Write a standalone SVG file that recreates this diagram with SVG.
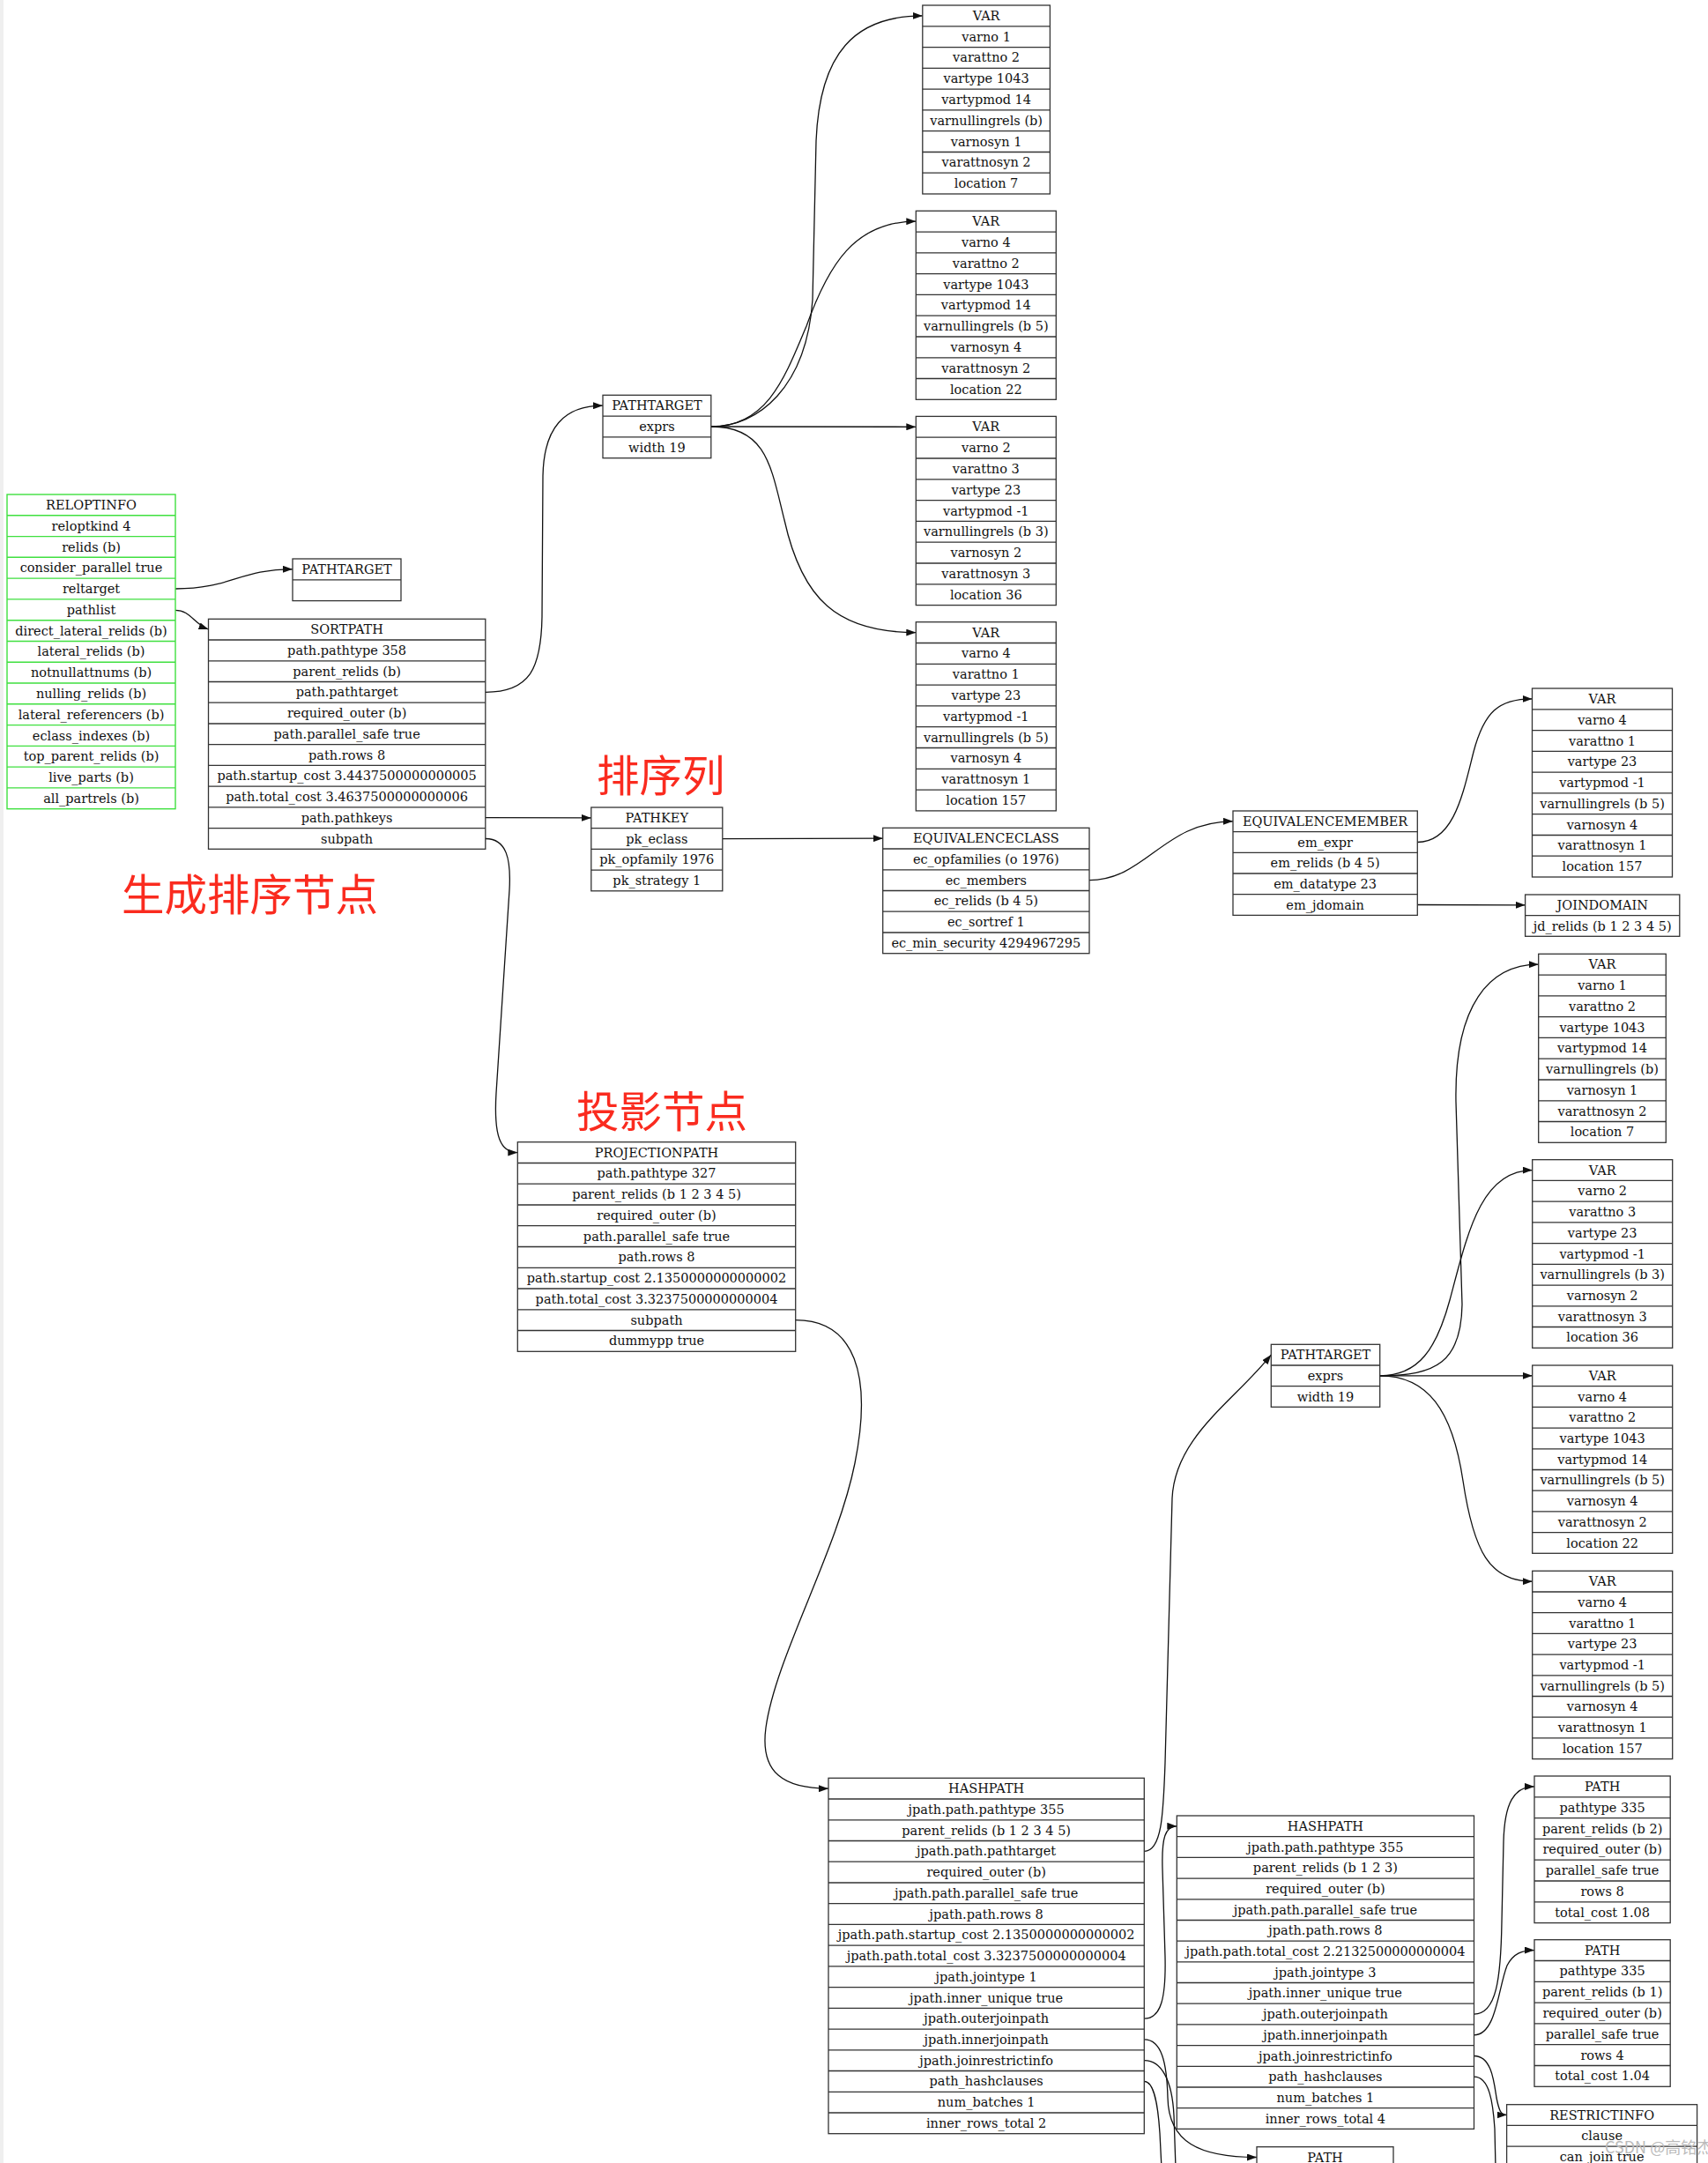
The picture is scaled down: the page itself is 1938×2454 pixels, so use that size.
<svg xmlns="http://www.w3.org/2000/svg" width="1938" height="2454" viewBox="0 0 1938 2454">
<style>
.box{fill:none;stroke:#333;stroke-width:1.3}
.gbox{fill:none;stroke:#3fe03f;stroke-width:1.4}
.sep{fill:none;stroke:#333;stroke-width:1.3}
.gsep{fill:none;stroke:#3fe03f;stroke-width:1.4}
.t{font-family:"DejaVu Serif",serif;font-size:14.5px;fill:#111;text-anchor:middle}
.e{fill:none;stroke:#111;stroke-width:1.3}
.red{font-family:"Noto Sans CJK SC",sans-serif;font-size:48.5px;fill:#fa2b1f}
.wm{font-family:"Noto Sans CJK SC",sans-serif;font-size:18px;fill:#bbb}
</style>
<defs>
<marker id="ah" markerUnits="userSpaceOnUse" markerWidth="11" markerHeight="8" refX="11" refY="4" orient="auto">
<path d="M0,0 L11,4 L0,8 z" fill="#111"/>
</marker>
</defs>
<rect x="0" y="0" width="1938" height="2454" fill="#fff"/>
<rect x="0" y="0" width="4" height="2454" fill="#efefef"/>

<g id="labels">
<text class="red" x="138" y="1033">生成排序节点</text>
<text class="red" x="677" y="897.5">排序列</text>
<text class="red" x="654" y="1279">投影节点</text>
</g>

<g id="connectors" class="e">
<path class="e" marker-end="url(#ah)" d="M199,668 C262,668 272,645.8 332,645.8"/>
<path class="e" marker-end="url(#ah)" d="M199,692.3 C216,692.3 220,708 236.5,714"/>
<path class="e" marker-end="url(#ah)" d="M551,785.3 C600,785.3 614,760 615,700 L616,540 C617,485 640,460.2 684,460.2"/>
<path class="e" marker-end="url(#ah)" d="M551,927.7 L670.8,927.9"/>
<path class="e" marker-end="url(#ah)" d="M551,951.5 C575,951.5 580,975 578,1010 L563,1240 C560,1290 568,1307.6 587.3,1307.6"/>
<path class="e" marker-end="url(#ah)" d="M807,484 C860,484 915,440 922,340 L926,160 C930,60 970,17.9 1046.8,17.9"/>
<path class="e" marker-end="url(#ah)" d="M807,484 C870,484 890,430 915,370 C940,300 970,251.2 1039.3,251.2"/>
<path class="e" marker-end="url(#ah)" d="M807,484 L1039.3,484.3"/>
<path class="e" marker-end="url(#ah)" d="M807,484 C870,484 875,530 890,590 C910,680 950,717.6 1039.3,717.6"/>
<path class="e" marker-end="url(#ah)" d="M820,951.6 L1001.7,951.2"/>
<path class="e" marker-end="url(#ah)" d="M1236,998.6 C1300,998.6 1320,931.8 1399,931.8"/>
<path class="e" marker-end="url(#ah)" d="M1608.3,955.5 C1650,955.5 1660,900 1672,853 C1684,808 1700,792.9 1738.5,792.9"/>
<path class="e" marker-end="url(#ah)" d="M1608.3,1026.5 L1730.6,1026.8"/>
<path class="e" marker-end="url(#ah)" d="M902.7,1497.7 C970,1497.7 990,1560 970,1660 C950,1760 880,1880 869,1960 C862,2012 890,2029.2 940,2029.2"/>
<path class="e" marker-end="url(#ah)" d="M1298.3,2100.4 C1318,2100.4 1320,2060 1322,2000 L1330,1700 C1333,1630 1400,1590 1442.3,1537.1"/>
<path class="e" marker-end="url(#ah)" d="M1298.3,2290.2 C1318,2290.2 1323,2265 1322,2220 L1319,2120 C1318,2085 1322,2071.8 1335.3,2071.8"/>
<path class="e" marker-end="url(#ah)" d="M1298.3,2313.9 C1318,2313.9 1324,2340 1325,2380 C1326,2430 1360,2447.5 1426,2447.5"/>
<path class="e" d="M1298.3,2337.7 C1318,2337.7 1330,2360 1332,2400 L1334,2460"/>
<path class="e" d="M1298.3,2361.4 C1310,2361.4 1314,2390 1316,2420 L1318,2460"/>
<path class="e" marker-end="url(#ah)" d="M1565.7,1560.8 C1630,1560.8 1658,1545 1659,1480 L1652,1250 C1650,1140 1690,1094.2 1745.7,1094.2"/>
<path class="e" marker-end="url(#ah)" d="M1565.7,1560.8 C1610,1560.8 1630,1530 1645,1475 C1665,1400 1680,1327.6 1738.7,1327.6"/>
<path class="e" marker-end="url(#ah)" d="M1565.7,1560.8 L1738.7,1560.85"/>
<path class="e" marker-end="url(#ah)" d="M1565.7,1560.8 C1620,1560.8 1648,1600 1660,1680 C1672,1760 1690,1794.2 1738.7,1794.2"/>
<path class="e" marker-end="url(#ah)" d="M1672.5,2285.1 C1698,2285.1 1703,2245 1704,2180 L1706,2090 C1707,2045 1718,2026.9 1741,2026.9"/>
<path class="e" marker-end="url(#ah)" d="M1672.5,2308.8 C1698,2308.8 1700,2255 1710,2230 C1717,2216 1727,2212.6 1741,2212.6"/>
<path class="e" marker-end="url(#ah)" d="M1672.5,2332.5 C1692,2332.5 1695,2360 1698,2380 C1701,2395 1703,2399.5 1709.6,2399.5"/>
<path class="e" d="M1672.5,2356.2 C1690,2356.2 1694,2385 1696,2415 L1697,2460"/>
</g>

<g id="reloptinfo">
<rect class="gbox" x="8" y="561" width="191" height="356.7"/>
<path class="gsep" d="M8,584.8H199M8,608.6H199M8,632.3H199M8,656.1H199M8,679.9H199M8,703.7H199M8,727.5H199M8,751.2H199M8,775H199M8,798.8H199M8,822.6H199M8,846.4H199M8,870.1H199M8,893.9H199"/>
<text class="t" x="103.5" y="577.9">RELOPTINFO</text>
<text class="t" x="103.5" y="601.7">reloptkind 4</text>
<text class="t" x="103.5" y="625.5">relids (b)</text>
<text class="t" x="103.5" y="649.2">consider_parallel true</text>
<text class="t" x="103.5" y="673">reltarget</text>
<text class="t" x="103.5" y="696.8">pathlist</text>
<text class="t" x="103.5" y="720.6">direct_lateral_relids (b)</text>
<text class="t" x="103.5" y="744.4">lateral_relids (b)</text>
<text class="t" x="103.5" y="768.1">notnullattnums (b)</text>
<text class="t" x="103.5" y="791.9">nulling_relids (b)</text>
<text class="t" x="103.5" y="815.7">lateral_referencers (b)</text>
<text class="t" x="103.5" y="839.5">eclass_indexes (b)</text>
<text class="t" x="103.5" y="863.3">top_parent_relids (b)</text>
<text class="t" x="103.5" y="887">live_parts (b)</text>
<text class="t" x="103.5" y="910.8">all_partrels (b)</text>
</g>

<g id="pathtarget_empty">
<rect class="box" x="332" y="634" width="123" height="47.6"/>
<path class="sep" d="M332,657.8H455"/>
<text class="t" x="393.5" y="650.9">PATHTARGET</text>
</g>

<g id="sortpath">
<rect class="box" x="236.5" y="702.3" width="314.3" height="261"/>
<path class="sep" d="M236.5,726H550.8M236.5,749.8H550.8M236.5,773.5H550.8M236.5,797.2H550.8M236.5,821H550.8M236.5,844.7H550.8M236.5,868.4H550.8M236.5,892.1H550.8M236.5,915.9H550.8M236.5,939.6H550.8"/>
<text class="t" x="393.6" y="719.2">SORTPATH</text>
<text class="t" x="393.6" y="742.9">path.pathtype 358</text>
<text class="t" x="393.6" y="766.6">parent_relids (b)</text>
<text class="t" x="393.6" y="790.4">path.pathtarget</text>
<text class="t" x="393.6" y="814.1">required_outer (b)</text>
<text class="t" x="393.6" y="837.8">path.parallel_safe true</text>
<text class="t" x="393.6" y="861.5">path.rows 8</text>
<text class="t" x="393.6" y="885.3">path.startup_cost 3.4437500000000005</text>
<text class="t" x="393.6" y="909">path.total_cost 3.4637500000000006</text>
<text class="t" x="393.6" y="932.7">path.pathkeys</text>
<text class="t" x="393.6" y="956.5">subpath</text>
</g>

<g id="pathtarget_top">
<rect class="box" x="684" y="448.3" width="122.8" height="71.4"/>
<path class="sep" d="M684,472.1H806.8M684,495.9H806.8"/>
<text class="t" x="745.4" y="465.2">PATHTARGET</text>
<text class="t" x="745.4" y="489">exprs</text>
<text class="t" x="745.4" y="512.8">width 19</text>
</g>

<g id="var1">
<rect class="box" x="1046.8" y="6" width="144.6" height="214"/>
<path class="sep" d="M1046.8,29.8H1191.4M1046.8,53.6H1191.4M1046.8,77.3H1191.4M1046.8,101.1H1191.4M1046.8,124.9H1191.4M1046.8,148.7H1191.4M1046.8,172.5H1191.4M1046.8,196.2H1191.4"/>
<text class="t" x="1119.1" y="22.9">VAR</text>
<text class="t" x="1119.1" y="46.7">varno 1</text>
<text class="t" x="1119.1" y="70.4">varattno 2</text>
<text class="t" x="1119.1" y="94.2">vartype 1043</text>
<text class="t" x="1119.1" y="118">vartypmod 14</text>
<text class="t" x="1119.1" y="141.8">varnullingrels (b)</text>
<text class="t" x="1119.1" y="165.6">varnosyn 1</text>
<text class="t" x="1119.1" y="189.4">varattnosyn 2</text>
<text class="t" x="1119.1" y="213.1">location 7</text>
</g>

<g id="var2">
<rect class="box" x="1039.3" y="239.3" width="159" height="214"/>
<path class="sep" d="M1039.3,263.1H1198.3M1039.3,286.9H1198.3M1039.3,310.6H1198.3M1039.3,334.4H1198.3M1039.3,358.2H1198.3M1039.3,382H1198.3M1039.3,405.8H1198.3M1039.3,429.5H1198.3"/>
<text class="t" x="1118.8" y="256.2">VAR</text>
<text class="t" x="1118.8" y="280">varno 4</text>
<text class="t" x="1118.8" y="303.8">varattno 2</text>
<text class="t" x="1118.8" y="327.6">vartype 1043</text>
<text class="t" x="1118.8" y="351.3">vartypmod 14</text>
<text class="t" x="1118.8" y="375.1">varnullingrels (b 5)</text>
<text class="t" x="1118.8" y="398.9">varnosyn 4</text>
<text class="t" x="1118.8" y="422.7">varattnosyn 2</text>
<text class="t" x="1118.8" y="446.5">location 22</text>
</g>

<g id="var3">
<rect class="box" x="1039.3" y="472.4" width="159" height="214.2"/>
<path class="sep" d="M1039.3,496.2H1198.3M1039.3,520H1198.3M1039.3,543.8H1198.3M1039.3,567.6H1198.3M1039.3,591.4H1198.3M1039.3,615.2H1198.3M1039.3,639H1198.3M1039.3,662.8H1198.3"/>
<text class="t" x="1118.8" y="489.3">VAR</text>
<text class="t" x="1118.8" y="513.1">varno 2</text>
<text class="t" x="1118.8" y="536.9">varattno 3</text>
<text class="t" x="1118.8" y="560.7">vartype 23</text>
<text class="t" x="1118.8" y="584.5">vartypmod -1</text>
<text class="t" x="1118.8" y="608.3">varnullingrels (b 3)</text>
<text class="t" x="1118.8" y="632.1">varnosyn 2</text>
<text class="t" x="1118.8" y="655.9">varattnosyn 3</text>
<text class="t" x="1118.8" y="679.7">location 36</text>
</g>

<g id="var4">
<rect class="box" x="1039.3" y="705.7" width="159" height="214.2"/>
<path class="sep" d="M1039.3,729.5H1198.3M1039.3,753.3H1198.3M1039.3,777.1H1198.3M1039.3,800.9H1198.3M1039.3,824.7H1198.3M1039.3,848.5H1198.3M1039.3,872.3H1198.3M1039.3,896.1H1198.3"/>
<text class="t" x="1118.8" y="722.6">VAR</text>
<text class="t" x="1118.8" y="746.4">varno 4</text>
<text class="t" x="1118.8" y="770.2">varattno 1</text>
<text class="t" x="1118.8" y="794">vartype 23</text>
<text class="t" x="1118.8" y="817.8">vartypmod -1</text>
<text class="t" x="1118.8" y="841.6">varnullingrels (b 5)</text>
<text class="t" x="1118.8" y="865.4">varnosyn 4</text>
<text class="t" x="1118.8" y="889.2">varattnosyn 1</text>
<text class="t" x="1118.8" y="913">location 157</text>
</g>

<g id="pathkey">
<rect class="box" x="670.8" y="916" width="149" height="94.8"/>
<path class="sep" d="M670.8,939.7H819.8M670.8,963.4H819.8M670.8,987.1H819.8"/>
<text class="t" x="745.3" y="932.9">PATHKEY</text>
<text class="t" x="745.3" y="956.6">pk_eclass</text>
<text class="t" x="745.3" y="980.3">pk_opfamily 1976</text>
<text class="t" x="745.3" y="1004">pk_strategy 1</text>
</g>

<g id="equivalenceclass">
<rect class="box" x="1001.7" y="939.3" width="234.3" height="142.4"/>
<path class="sep" d="M1001.7,963H1236M1001.7,986.8H1236M1001.7,1010.5H1236M1001.7,1034.2H1236M1001.7,1058H1236"/>
<text class="t" x="1118.85" y="956.2">EQUIVALENCECLASS</text>
<text class="t" x="1118.85" y="979.9">ec_opfamilies (o 1976)</text>
<text class="t" x="1118.85" y="1003.6">ec_members</text>
<text class="t" x="1118.85" y="1027.4">ec_relids (b 4 5)</text>
<text class="t" x="1118.85" y="1051.1">ec_sortref 1</text>
<text class="t" x="1118.85" y="1074.8">ec_min_security 4294967295</text>
</g>

<g id="equivalencemember">
<rect class="box" x="1399" y="920" width="209.3" height="118.4"/>
<path class="sep" d="M1399,943.7H1608.3M1399,967.3H1608.3M1399,991H1608.3M1399,1014.7H1608.3"/>
<text class="t" x="1503.6" y="936.8">EQUIVALENCEMEMBER</text>
<text class="t" x="1503.6" y="960.5">em_expr</text>
<text class="t" x="1503.6" y="984.2">em_relids (b 4 5)</text>
<text class="t" x="1503.6" y="1007.8">em_datatype 23</text>
<text class="t" x="1503.6" y="1031.5">em_jdomain</text>
</g>

<g id="var_em">
<rect class="box" x="1738.5" y="781" width="159" height="214"/>
<path class="sep" d="M1738.5,804.8H1897.5M1738.5,828.6H1897.5M1738.5,852.3H1897.5M1738.5,876.1H1897.5M1738.5,899.9H1897.5M1738.5,923.7H1897.5M1738.5,947.5H1897.5M1738.5,971.2H1897.5"/>
<text class="t" x="1818" y="797.9">VAR</text>
<text class="t" x="1818" y="821.7">varno 4</text>
<text class="t" x="1818" y="845.5">varattno 1</text>
<text class="t" x="1818" y="869.2">vartype 23</text>
<text class="t" x="1818" y="893">vartypmod -1</text>
<text class="t" x="1818" y="916.8">varnullingrels (b 5)</text>
<text class="t" x="1818" y="940.6">varnosyn 4</text>
<text class="t" x="1818" y="964.4">varattnosyn 1</text>
<text class="t" x="1818" y="988.1">location 157</text>
</g>

<g id="joindomain">
<rect class="box" x="1730.6" y="1015" width="175.2" height="47.3"/>
<path class="sep" d="M1730.6,1038.65H1905.8"/>
<text class="t" x="1818.2" y="1031.8">JOINDOMAIN</text>
<text class="t" x="1818.2" y="1055.5">jd_relids (b 1 2 3 4 5)</text>
</g>

<g id="projectionpath">
<rect class="box" x="587.3" y="1295.7" width="315.4" height="237.6"/>
<path class="sep" d="M587.3,1319.5H902.7M587.3,1343.2H902.7M587.3,1367H902.7M587.3,1390.7H902.7M587.3,1414.5H902.7M587.3,1438.3H902.7M587.3,1462H902.7M587.3,1485.8H902.7M587.3,1509.5H902.7"/>
<text class="t" x="745" y="1312.6">PROJECTIONPATH</text>
<text class="t" x="745" y="1336.4">path.pathtype 327</text>
<text class="t" x="745" y="1360.1">parent_relids (b 1 2 3 4 5)</text>
<text class="t" x="745" y="1383.9">required_outer (b)</text>
<text class="t" x="745" y="1407.6">path.parallel_safe true</text>
<text class="t" x="745" y="1431.4">path.rows 8</text>
<text class="t" x="745" y="1455.2">path.startup_cost 2.1350000000000002</text>
<text class="t" x="745" y="1478.9">path.total_cost 3.3237500000000004</text>
<text class="t" x="745" y="1502.7">subpath</text>
<text class="t" x="745" y="1526.4">dummypp true</text>
</g>

<g id="hashpath1">
<rect class="box" x="940" y="2017.3" width="358.3" height="403.4"/>
<path class="sep" d="M940,2041H1298.3M940,2064.8H1298.3M940,2088.5H1298.3M940,2112.2H1298.3M940,2136H1298.3M940,2159.7H1298.3M940,2183.4H1298.3M940,2207.1H1298.3M940,2230.9H1298.3M940,2254.6H1298.3M940,2278.3H1298.3M940,2302.1H1298.3M940,2325.8H1298.3M940,2349.5H1298.3M940,2373.3H1298.3M940,2397H1298.3"/>
<text class="t" x="1119.15" y="2034.2">HASHPATH</text>
<text class="t" x="1119.15" y="2057.9">jpath.path.pathtype 355</text>
<text class="t" x="1119.15" y="2081.6">parent_relids (b 1 2 3 4 5)</text>
<text class="t" x="1119.15" y="2105.4">jpath.path.pathtarget</text>
<text class="t" x="1119.15" y="2129.1">required_outer (b)</text>
<text class="t" x="1119.15" y="2152.8">jpath.path.parallel_safe true</text>
<text class="t" x="1119.15" y="2176.6">jpath.path.rows 8</text>
<text class="t" x="1119.15" y="2200.3">jpath.path.startup_cost 2.1350000000000002</text>
<text class="t" x="1119.15" y="2224">jpath.path.total_cost 3.3237500000000004</text>
<text class="t" x="1119.15" y="2247.8">jpath.jointype 1</text>
<text class="t" x="1119.15" y="2271.5">jpath.inner_unique true</text>
<text class="t" x="1119.15" y="2295.2">jpath.outerjoinpath</text>
<text class="t" x="1119.15" y="2318.9">jpath.innerjoinpath</text>
<text class="t" x="1119.15" y="2342.7">jpath.joinrestrictinfo</text>
<text class="t" x="1119.15" y="2366.4">path_hashclauses</text>
<text class="t" x="1119.15" y="2390.1">num_batches 1</text>
<text class="t" x="1119.15" y="2413.9">inner_rows_total 2</text>
</g>

<g id="pathtarget_low">
<rect class="box" x="1442.3" y="1525.3" width="123.4" height="71"/>
<path class="sep" d="M1442.3,1549H1565.7M1442.3,1572.6H1565.7"/>
<text class="t" x="1504" y="1542.2">PATHTARGET</text>
<text class="t" x="1504" y="1565.8">exprs</text>
<text class="t" x="1504" y="1589.5">width 19</text>
</g>

<g id="var_a">
<rect class="box" x="1745.7" y="1082.3" width="144.6" height="214"/>
<path class="sep" d="M1745.7,1106.1H1890.3M1745.7,1129.9H1890.3M1745.7,1153.6H1890.3M1745.7,1177.4H1890.3M1745.7,1201.2H1890.3M1745.7,1225H1890.3M1745.7,1248.8H1890.3M1745.7,1272.5H1890.3"/>
<text class="t" x="1818" y="1099.2">VAR</text>
<text class="t" x="1818" y="1123">varno 1</text>
<text class="t" x="1818" y="1146.7">varattno 2</text>
<text class="t" x="1818" y="1170.5">vartype 1043</text>
<text class="t" x="1818" y="1194.3">vartypmod 14</text>
<text class="t" x="1818" y="1218.1">varnullingrels (b)</text>
<text class="t" x="1818" y="1241.9">varnosyn 1</text>
<text class="t" x="1818" y="1265.7">varattnosyn 2</text>
<text class="t" x="1818" y="1289.4">location 7</text>
</g>

<g id="var_b">
<rect class="box" x="1738.7" y="1315.7" width="159" height="213.6"/>
<path class="sep" d="M1738.7,1339.4H1897.7M1738.7,1363.2H1897.7M1738.7,1386.9H1897.7M1738.7,1410.6H1897.7M1738.7,1434.4H1897.7M1738.7,1458.1H1897.7M1738.7,1481.8H1897.7M1738.7,1505.5H1897.7"/>
<text class="t" x="1818.2" y="1332.6">VAR</text>
<text class="t" x="1818.2" y="1356.3">varno 2</text>
<text class="t" x="1818.2" y="1380">varattno 3</text>
<text class="t" x="1818.2" y="1403.8">vartype 23</text>
<text class="t" x="1818.2" y="1427.5">vartypmod -1</text>
<text class="t" x="1818.2" y="1451.2">varnullingrels (b 3)</text>
<text class="t" x="1818.2" y="1475">varnosyn 2</text>
<text class="t" x="1818.2" y="1498.7">varattnosyn 3</text>
<text class="t" x="1818.2" y="1522.4">location 36</text>
</g>

<g id="var_c">
<rect class="box" x="1738.7" y="1549" width="159" height="213.3"/>
<path class="sep" d="M1738.7,1572.7H1897.7M1738.7,1596.4H1897.7M1738.7,1620.1H1897.7M1738.7,1643.8H1897.7M1738.7,1667.5H1897.7M1738.7,1691.2H1897.7M1738.7,1714.9H1897.7M1738.7,1738.6H1897.7"/>
<text class="t" x="1818.2" y="1565.9">VAR</text>
<text class="t" x="1818.2" y="1589.6">varno 4</text>
<text class="t" x="1818.2" y="1613.3">varattno 2</text>
<text class="t" x="1818.2" y="1637">vartype 1043</text>
<text class="t" x="1818.2" y="1660.7">vartypmod 14</text>
<text class="t" x="1818.2" y="1684.4">varnullingrels (b 5)</text>
<text class="t" x="1818.2" y="1708.1">varnosyn 4</text>
<text class="t" x="1818.2" y="1731.8">varattnosyn 2</text>
<text class="t" x="1818.2" y="1755.5">location 22</text>
</g>

<g id="var_d">
<rect class="box" x="1738.7" y="1782.3" width="159" height="213.3"/>
<path class="sep" d="M1738.7,1806H1897.7M1738.7,1829.7H1897.7M1738.7,1853.4H1897.7M1738.7,1877.1H1897.7M1738.7,1900.8H1897.7M1738.7,1924.5H1897.7M1738.7,1948.2H1897.7M1738.7,1971.9H1897.7"/>
<text class="t" x="1818.2" y="1799.2">VAR</text>
<text class="t" x="1818.2" y="1822.9">varno 4</text>
<text class="t" x="1818.2" y="1846.6">varattno 1</text>
<text class="t" x="1818.2" y="1870.3">vartype 23</text>
<text class="t" x="1818.2" y="1894">vartypmod -1</text>
<text class="t" x="1818.2" y="1917.7">varnullingrels (b 5)</text>
<text class="t" x="1818.2" y="1941.4">varnosyn 4</text>
<text class="t" x="1818.2" y="1965.1">varattnosyn 1</text>
<text class="t" x="1818.2" y="1988.8">location 157</text>
</g>

<g id="hashpath2">
<rect class="box" x="1335.3" y="2060" width="337.2" height="355.4"/>
<path class="sep" d="M1335.3,2083.7H1672.5M1335.3,2107.4H1672.5M1335.3,2131.1H1672.5M1335.3,2154.8H1672.5M1335.3,2178.5H1672.5M1335.3,2202.1H1672.5M1335.3,2225.8H1672.5M1335.3,2249.5H1672.5M1335.3,2273.2H1672.5M1335.3,2296.9H1672.5M1335.3,2320.6H1672.5M1335.3,2344.3H1672.5M1335.3,2368H1672.5M1335.3,2391.7H1672.5"/>
<text class="t" x="1503.9" y="2076.8">HASHPATH</text>
<text class="t" x="1503.9" y="2100.5">jpath.path.pathtype 355</text>
<text class="t" x="1503.9" y="2124.2">parent_relids (b 1 2 3)</text>
<text class="t" x="1503.9" y="2147.9">required_outer (b)</text>
<text class="t" x="1503.9" y="2171.6">jpath.path.parallel_safe true</text>
<text class="t" x="1503.9" y="2195.3">jpath.path.rows 8</text>
<text class="t" x="1503.9" y="2219">jpath.path.total_cost 2.2132500000000004</text>
<text class="t" x="1503.9" y="2242.7">jpath.jointype 3</text>
<text class="t" x="1503.9" y="2266.4">jpath.inner_unique true</text>
<text class="t" x="1503.9" y="2290.1">jpath.outerjoinpath</text>
<text class="t" x="1503.9" y="2313.8">jpath.innerjoinpath</text>
<text class="t" x="1503.9" y="2337.5">jpath.joinrestrictinfo</text>
<text class="t" x="1503.9" y="2361.2">path_hashclauses</text>
<text class="t" x="1503.9" y="2384.9">num_batches 1</text>
<text class="t" x="1503.9" y="2408.5">inner_rows_total 4</text>
</g>

<g id="path1">
<rect class="box" x="1741" y="2015" width="154.2" height="166.6"/>
<path class="sep" d="M1741,2038.8H1895.2M1741,2062.6H1895.2M1741,2086.4H1895.2M1741,2110.2H1895.2M1741,2134H1895.2M1741,2157.8H1895.2"/>
<text class="t" x="1818.1" y="2031.9">PATH</text>
<text class="t" x="1818.1" y="2055.7">pathtype 335</text>
<text class="t" x="1818.1" y="2079.5">parent_relids (b 2)</text>
<text class="t" x="1818.1" y="2103.3">required_outer (b)</text>
<text class="t" x="1818.1" y="2127.1">parallel_safe true</text>
<text class="t" x="1818.1" y="2150.9">rows 8</text>
<text class="t" x="1818.1" y="2174.7">total_cost 1.08</text>
</g>

<g id="path2">
<rect class="box" x="1741" y="2200.7" width="154.2" height="166.6"/>
<path class="sep" d="M1741,2224.5H1895.2M1741,2248.3H1895.2M1741,2272.1H1895.2M1741,2295.9H1895.2M1741,2319.7H1895.2M1741,2343.5H1895.2"/>
<text class="t" x="1818.1" y="2217.6">PATH</text>
<text class="t" x="1818.1" y="2241.4">pathtype 335</text>
<text class="t" x="1818.1" y="2265.2">parent_relids (b 1)</text>
<text class="t" x="1818.1" y="2289">required_outer (b)</text>
<text class="t" x="1818.1" y="2312.8">parallel_safe true</text>
<text class="t" x="1818.1" y="2336.6">rows 4</text>
<text class="t" x="1818.1" y="2360.4">total_cost 1.04</text>
</g>

<g id="restrictinfo">
<rect class="box" x="1709.6" y="2387.7" width="216" height="71.1"/>
<path class="sep" d="M1709.6,2411.4H1925.6M1709.6,2435.1H1925.6"/>
<text class="t" x="1817.6" y="2404.6">RESTRICTINFO</text>
<text class="t" x="1817.6" y="2428.3">clause</text>
<text class="t" x="1817.6" y="2452">can_join true</text>
</g>

<g id="path3">
<rect class="box" x="1426" y="2435.7" width="155" height="30"/>
<text class="t" x="1503.5" y="2452.6">PATH</text>
</g>

<text class="wm" x="1821" y="2443">CSDN @高铭杰</text>
</svg>
